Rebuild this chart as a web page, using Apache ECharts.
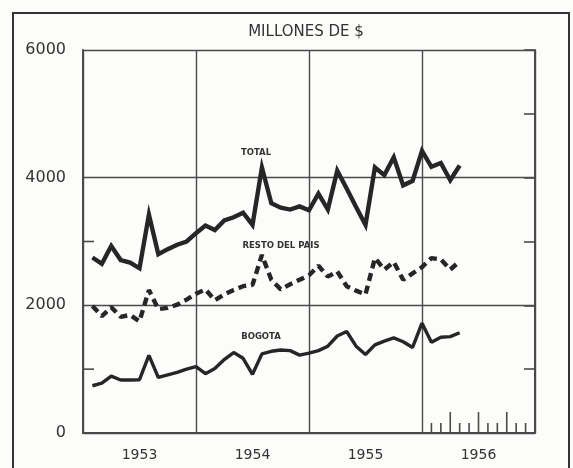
<!DOCTYPE html>
<html>
<head>
<meta charset="utf-8">
<script src="https://cdn.jsdelivr.net/npm/echarts@6/dist/echarts.min.js"></script>
<style>
  html, body { margin: 0; padding: 0; background: #fcfcfa; }
  #chart { width: 573px; height: 468px; }
</style>
</head>
<body>
<div id="chart"></div>
<script>
// ---- Data ----
const months = [
  '1953-01','1953-02','1953-03','1953-04','1953-05','1953-06','1953-07','1953-08','1953-09','1953-10','1953-11','1953-12',
  '1954-01','1954-02','1954-03','1954-04','1954-05','1954-06','1954-07','1954-08','1954-09','1954-10','1954-11','1954-12',
  '1955-01','1955-02','1955-03','1955-04','1955-05','1955-06','1955-07','1955-08','1955-09','1955-10','1955-11','1955-12',
  '1956-01','1956-02','1956-03','1956-04'
];
const totalValues = [
  2750, 2650, 2930, 2710, 2670, 2580, 3420, 2800, 2880, 2950, 3000, 3130,
  3250, 3180, 3330, 3380, 3450, 3260, 4160, 3600, 3530, 3500, 3550, 3490,
  3750, 3500, 4110, 3830, 3540, 3260, 4160, 4040, 4320, 3880, 3950, 4420,
  4170, 4230, 3960, 4190
];
const restoValues = [
  1990, 1830, 1970, 1820, 1850, 1750, 2240, 1940, 1960, 2010, 2090, 2180,
  2250, 2080, 2170, 2240, 2300, 2320, 2790, 2400, 2250, 2330, 2400, 2470,
  2620, 2450, 2530, 2300, 2230, 2170, 2740, 2560, 2680, 2400, 2500, 2600,
  2740, 2720, 2560, 2690
];
const bogotaValues = [
  740, 780, 890, 830, 830, 835, 1215, 870, 910, 950, 1000, 1040,
  930, 1010, 1150, 1260, 1170, 920, 1240, 1280, 1300, 1290, 1220, 1250,
  1290, 1360, 1520, 1590, 1360, 1230, 1380, 1440, 1490, 1430, 1340, 1720,
  1420, 1500, 1510, 1570
];
const yearLabels = ['1953', '1954', '1955', '1956'];
const yTickLabels = { 0: '0', 2000: '2000', 4000: '4000', 6000: '6000' };
const seriesNames = ['TOTAL', 'RESTO DEL PAIS', 'BOGOTA'];
const titleText = 'MILLONES DE $';
// month tick marks drawn along the 1956 stretch of the time axis
const tickMonths1956 = ['1956-01','1956-02','1956-03','1956-04','1956-05','1956-06','1956-07','1956-08','1956-09','1956-10','1956-11'];
const tickKinds1956  = ['s','s','l','s','s','l','s','s','l','s','s'];
const leftMinorTicks = [1000, 3000];

// ---- helpers ----
const baseYear = 1953;
function monthPos(s) { // month-end position, in months from Jan 1 1953
  return (parseInt(s.slice(0, 4), 10) - baseYear) * 12 + parseInt(s.slice(5, 7), 10);
}
function pairs(vals) { return months.map((m, i) => [monthPos(m), vals[i]]); }

const ink = '#262626';
const gridInk = '#4a4a4a';
const font = 'DejaVu Sans';

const chart = echarts.init(document.getElementById('chart'), null, { renderer: 'canvas' });

const option = {
  backgroundColor: '#fcfcfa',
  animation: false,
  grid: { left: 83, right: 38, top: 50, bottom: 35, containLabel: false },
  xAxis: [
    {
      type: 'value', min: 0, max: 48, interval: 12,
      axisLine: { show: true, onZero: false, lineStyle: { color: gridInk, width: 2 } },
      axisTick: { show: false },
      axisLabel: { show: false },
      splitLine: { show: true, lineStyle: { color: gridInk, width: 1.4 } }
    },
    {
      type: 'value', position: 'bottom', min: 0, max: 48, interval: 6,
      axisLine: { show: false }, axisTick: { show: false }, splitLine: { show: false },
      axisLabel: {
        margin: 15, fontSize: 14, color: '#333', fontFamily: font,
        formatter: v => (v % 12 === 6 ? yearLabels[(v - 6) / 12] : '')
      }
    }
  ],
  yAxis: [
    {
      type: 'value', min: 0, max: 6000, interval: 2000,
      axisLine: { show: true, onZero: false, lineStyle: { color: gridInk, width: 2 } },
      axisTick: { show: false },
      axisLabel: {
        margin: 17, fontSize: 16, color: '#333', fontFamily: font,
        formatter: v => (yTickLabels[v] !== undefined ? yTickLabels[v] : '')
      },
      splitLine: { show: true, lineStyle: { color: gridInk, width: 1.4 } }
    },
    {
      type: 'value', position: 'right', min: 0, max: 6000, interval: 1000,
      axisLine: { show: true, onZero: false, lineStyle: { color: gridInk, width: 2 } },
      axisTick: { show: true, inside: true, length: 11, lineStyle: { color: gridInk, width: 1.6 } },
      axisLabel: { show: false },
      splitLine: { show: false }
    }
  ],
  series: [
    {
      name: seriesNames[0], type: 'line', xAxisIndex: 0, yAxisIndex: 0,
      data: pairs(totalValues), symbol: 'none', smooth: false,
      lineStyle: { color: ink, width: 4.4, join: 'miter' }, z: 5
    },
    {
      name: seriesNames[1], type: 'line', xAxisIndex: 0, yAxisIndex: 0,
      data: pairs(restoValues), symbol: 'none', smooth: false,
      lineStyle: { color: ink, width: 4.4, type: [8, 5] }, z: 5
    },
    {
      name: seriesNames[2], type: 'line', xAxisIndex: 0, yAxisIndex: 0,
      data: pairs(bogotaValues), symbol: 'none', smooth: false,
      lineStyle: { color: ink, width: 3.4 }, z: 5
    },
    {
      type: 'custom', xAxisIndex: 0, yAxisIndex: 0, silent: true, z: 4,
      data: tickMonths1956.map((m, i) => [monthPos(m), 0, tickKinds1956[i] === 'l' ? 21 : 10]),
      renderItem: (params, api) => {
        const p = api.coord([api.value(0), api.value(1)]);
        return { type: 'line', shape: { x1: p[0], y1: p[1], x2: p[0], y2: p[1] - api.value(2) },
                 style: { stroke: gridInk, lineWidth: 1.6 } };
      }
    },
    {
      type: 'custom', xAxisIndex: 0, yAxisIndex: 0, silent: true, z: 4,
      data: leftMinorTicks.map(v => [0, v]),
      renderItem: (params, api) => {
        const p = api.coord([api.value(0), api.value(1)]);
        return { type: 'line', shape: { x1: p[0], y1: p[1], x2: p[0] + 11, y2: p[1] },
                 style: { stroke: gridInk, lineWidth: 1.6 } };
      }
    }
  ],
  graphic: [
    { type: 'rect', silent: true, z: 0,
      shape: { x: 13, y: 13, width: 556, height: 470 },
      style: { fill: 'none', stroke: '#333', lineWidth: 2 } },
    { type: 'text', silent: true, x: 306, y: 32,
      style: { text: titleText, font: '15px "DejaVu Sans"', fill: '#333', align: 'center', verticalAlign: 'middle' } },
    { type: 'text', silent: true, x: 256, y: 153,
      style: { text: seriesNames[0], font: 'bold 8.5px "DejaVu Sans"', fill: '#333', align: 'center', verticalAlign: 'middle' } },
    { type: 'text', silent: true, x: 281, y: 246,
      style: { text: seriesNames[1], font: 'bold 8.5px "DejaVu Sans"', fill: '#333', align: 'center', verticalAlign: 'middle' } },
    { type: 'text', silent: true, x: 261, y: 337,
      style: { text: seriesNames[2], font: 'bold 8.5px "DejaVu Sans"', fill: '#333', align: 'center', verticalAlign: 'middle' } }
  ]
};

chart.setOption(option);
</script>
</body>
</html>
